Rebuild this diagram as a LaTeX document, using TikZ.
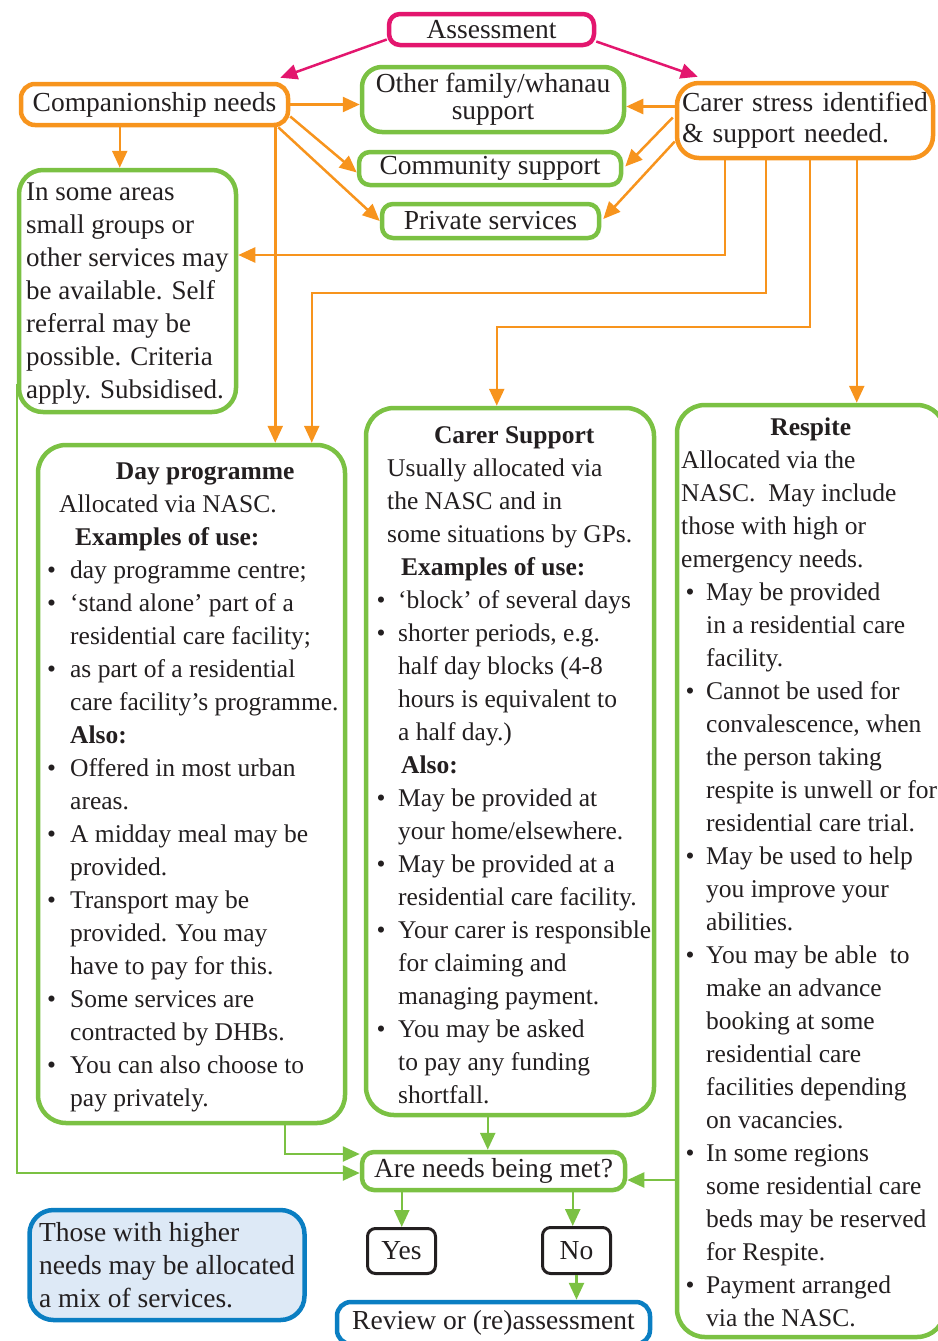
\documentclass[tikz,border=0pt]{standalone}
\usepackage{fontspec}
\setmainfont{Liberation Serif}
\usetikzlibrary{arrows.meta,calc}
\definecolor{cpink}{HTML}{E3166E}
\definecolor{corange}{HTML}{F7941D}
\definecolor{cgreen}{HTML}{7BC143}
\definecolor{cblue}{HTML}{0A7EC2}
\definecolor{cfill}{HTML}{DDE9F6}
\definecolor{ctext}{HTML}{231F20}
\newcommand{\mainfs}{\fontsize{25.5}{33}\selectfont}
\newcommand{\boxfs}{\fontsize{27.5}{33}\selectfont}
\newcommand{\blt}[2]{\hspace*{#1}\makebox[#2][l]{\textbullet}}
\newcommand{\cnt}[1]{\hspace*{#1}}
\newcommand{\firstl}{\rule{0pt}{20pt}}
\begin{document}
\begin{tikzpicture}[x=1pt,y=-1pt,
  bx/.style={draw, line width=4.5pt, inner sep=0pt, rounded corners=14pt, text=ctext, font=\boxfs},
  txt/.style={inner sep=0pt, anchor=north west, align=left, text=ctext, font=\mainfs},
  arr/.style={line width=2.5pt, -{Triangle[length=17pt,width=15pt]}},
  parr/.style={arr, cpink},
  oarr/.style={arr, corange},
  garr/.style={arr, cgreen}]
\useasboundingbox (0,0) rectangle (937,1341);

% boxes
\node[bx, draw=cpink, minimum width=205pt, minimum height=31pt, rounded corners=11pt] (assess) at (491.5,29.5) {Assessment};
\node[bx, draw=corange, minimum width=267pt, minimum height=41pt] (comp) at (154.5,104.5) {Companionship needs};
\node[bx, draw=cgreen, minimum width=262pt, minimum height=65pt, rounded corners=20pt, align=center] (other) at (493,99.5) {Other family/whanau\\[-6pt]support};
\node[bx, draw=cgreen, minimum width=262pt, minimum height=33pt, rounded corners=11pt] (comm) at (490,168.5) {Community support};
\node[bx, draw=cgreen, minimum width=217pt, minimum height=34pt, rounded corners=11pt] (priv) at (490.5,221) {Private services};
\node[bx, draw=corange, minimum width=256pt, minimum height=75pt, rounded corners=22pt, align=left, text width=246pt] (stress) at (805,120.5) {Carer stress identified\\[-2pt]\& support needed.};
\node[bx, draw=cgreen, minimum width=217pt, minimum height=242pt, rounded corners=24pt] (areas) at (127.5,291) {};
\node[bx, draw=cgreen, minimum width=307pt, minimum height=678pt, rounded corners=28pt] (day) at (191.5,784) {};
\node[bx, draw=cgreen, minimum width=288pt, minimum height=707pt, rounded corners=28pt] (carer) at (510,761.5) {};
\node[bx, draw=cgreen, minimum width=268pt, minimum height=932pt, rounded corners=28pt] (respite) at (811,871) {};
\node[bx, draw=cgreen, minimum width=263pt, minimum height=38pt, rounded corners=12pt] (needs) at (493.5,1171) {Are needs being met?};
\node[bx, draw=ctext, line width=3pt, minimum width=68pt, minimum height=45pt, rounded corners=8pt] (yes) at (401.5,1251) {Yes};
\node[bx, draw=ctext, line width=3pt, minimum width=68pt, minimum height=46pt, rounded corners=8pt] (no) at (576.5,1250.5) {No};
\node[bx, draw=cblue, minimum width=313pt, minimum height=42pt, rounded corners=14pt] (review) at (493.5,1323) {Review or (re)assessment};
\node[bx, draw=cblue, fill=cfill, minimum width=275pt, minimum height=110pt, rounded corners=24pt, align=left] (mix) at (167,1265) {Those with higher\\needs may be allocated\\a mix of services.};

% texts of the large boxes
\node[txt, font=\fontsize{27}{33}\selectfont] (tareas) at (26,180) {\firstl In some areas\\small groups or\\other services may\\be available. Self\\referral may be\\possible. Criteria\\apply. Subsidised.};

\node[txt] (tday) at (47,459) {\firstl\hspace*{158pt}\makebox[0pt]{\textbf{Day programme}}\\
\hspace*{12pt}Allocated via NASC.\\
\hspace*{28pt}\textbf{Examples of use:}\\
\blt{0pt}{23pt}day programme centre;\\
\blt{0pt}{23pt}‘stand alone’ part of a\\
\cnt{23pt}residential care facility;\\
\blt{0pt}{23pt}as part of a residential\\
\cnt{23pt}care facility’s programme.\\
\cnt{23pt}\textbf{Also:}\\
\blt{0pt}{23pt}Offered in most urban\\
\cnt{23pt}areas.\\
\blt{0pt}{23pt}A midday meal may be\\
\cnt{23pt}provided.\\
\blt{0pt}{23pt}Transport may be\\
\cnt{23pt}provided. You may\\
\cnt{23pt}have to pay for this.\\
\blt{0pt}{23pt}Some services are\\
\cnt{23pt}contracted by DHBs.\\
\blt{0pt}{23pt}You can also choose to\\
\cnt{23pt}pay privately.};

\node[txt] (tcarer) at (376.5,423) {\firstl\hspace*{137.5pt}\makebox[0pt]{\textbf{Carer Support}}\\
\hspace*{10.5pt}Usually allocated via\\
\hspace*{10.5pt}the NASC and in\\
\hspace*{10.5pt}some situations by GPs.\\
\hspace*{24.5pt}\textbf{Examples of use:}\\
\blt{0pt}{21.5pt}‘block’ of several days\\
\blt{0pt}{21.5pt}shorter periods, e.g.\\
\cnt{21.5pt}half day blocks (4-8\\
\cnt{21.5pt}hours is equivalent to\\
\cnt{21.5pt}a half day.)\\
\hspace*{24.5pt}\textbf{Also:}\\
\blt{0pt}{21.5pt}May be provided at\\
\cnt{21.5pt}your home/elsewhere.\\
\blt{0pt}{21.5pt}May be provided at a\\
\cnt{21.5pt}residential care facility.\\
\blt{0pt}{21.5pt}Your carer is responsible\\
\cnt{21.5pt}for claiming and\\
\cnt{21.5pt}managing payment.\\
\blt{0pt}{21.5pt}You may be asked\\
\cnt{21.5pt}to pay any funding\\
\cnt{21.5pt}shortfall.};

\node[txt] (trespite) at (680,415) {\firstl\hspace*{130.5pt}\makebox[0pt]{\textbf{Respite}}\\
\hspace*{1pt}Allocated via the\\
\hspace*{1pt}NASC.\ \ May include\\
\hspace*{1pt}those with high or\\
\hspace*{1pt}emergency needs.\\
\blt{5.5pt}{20.5pt}May be provided\\
\cnt{26pt}in a residential care\\
\cnt{26pt}facility.\\
\blt{5.5pt}{20.5pt}Cannot be used for\\
\cnt{26pt}convalescence, when\\
\cnt{26pt}the person taking\\
\cnt{26pt}respite is unwell or for\\
\cnt{26pt}residential care trial.\\
\blt{5.5pt}{20.5pt}May be used to help\\
\cnt{26pt}you improve your\\
\cnt{26pt}abilities.\\
\blt{5.5pt}{20.5pt}You may be able\ \ to\\
\cnt{26pt}make an advance\\
\cnt{26pt}booking at some\\
\cnt{26pt}residential care\\
\cnt{26pt}facilities depending\\
\cnt{26pt}on vacancies.\\
\blt{5.5pt}{20.5pt}In some regions\\
\cnt{26pt}some residential care\\
\cnt{26pt}beds may be reserved\\
\cnt{26pt}for Respite.\\
\blt{5.5pt}{20.5pt}Payment arranged\\
\cnt{26pt}via the NASC.};

% anchor points of connectors
\coordinate (ca) at ($(comp.south west)+(101,0)$);
\coordinate (cd) at ($(comp.south east)+(-15,0)$);
\coordinate (so) at ($(stress.west)+(0,-14)$);
\coordinate (s1) at ($(stress.south west)+(50,0)$);
\coordinate (s2) at ($(stress.south west)+(91,0)$);
\coordinate (s3) at ($(stress.south west)+(135,0)$);
\coordinate (s4) at ($(stress.south west)+(182,0)$);
\coordinate (d2) at ($(day.north west)+(276,0)$);
\coordinate (c3) at ($(carer.north west)+(133,0)$);
\coordinate (cb) at ($(carer.south west)+(124,0)$);
\coordinate (rn) at ($(needs.east)+(0,9)$);
\coordinate (ny) at ($(needs.south west)+(42,0)$);
\coordinate (nn) at ($(needs.south west)+(213,0)$);

% pink connectors
\draw[parr] ($(assess.west)+(0,10)$) -- ($(comp.north east)+(-10,-4)$);
\draw[parr] ($(assess.east)+(0,12)$) -- ($(stress.north west)+(23,-4)$);

% orange connectors from companionship
\draw[oarr] (comp.east) -- (comp.east -| other.west);
\draw[oarr] ($(comp.east)+(0,12)$) -- ($(comm.west)+(0,4)$);
\draw[oarr] ($(comp.south east)+(-12,0)$) -- (priv.west);
\draw[oarr] (ca) -- (ca |- areas.north);
\draw[oarr] (cd) -- (cd |- day.north);

% orange connectors from carer stress
\draw[oarr] (so) -- (so -| other.east);
\draw[oarr] ($(stress.west)+(-2,-3)$) -- ($(comm.east)+(2,-2)$);
\draw[oarr] ($(stress.west)+(0,21)$) -- ($(priv.east)+(2,-2)$);
\draw[oarr] (s1) |- ($(areas.east)+(0,-36)$);
\draw[oarr] (s2) |- ($(d2)+(0,-150)$) -- (d2);
\draw[oarr] (s3) |- ($(c3)+(0,-79)$) -- (c3);
\draw[oarr] (s4) -- (s4 |- respite.north);

% green connectors
\draw[garr] ($(areas.south west)+(0,-30)$) |- ($(needs.west)+(0,2)$);
\draw[garr] ($(day.south west)+(249,0)$) |- ($(needs.west)+(0,-17)$);
\draw[garr] (cb) -- (cb |- needs.north);
\draw[garr] (respite.west |- rn) -- (rn);
\draw[garr] (ny) -- (ny |- yes.north);
\draw[garr] (nn) -- (nn |- no.north);
\draw[garr] (no.south) -- (no.south |- review.north);
\end{tikzpicture}
\end{document}
